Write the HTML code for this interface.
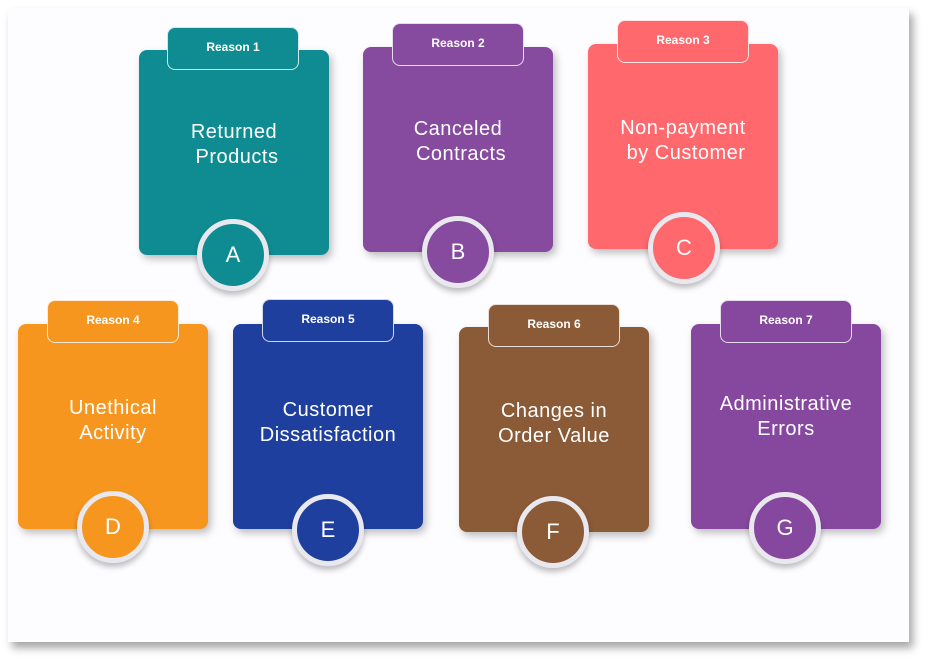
<!DOCTYPE html>
<html><head><meta charset="utf-8"><style>
html,body{margin:0;padding:0;width:937px;height:667px;background:#fff;overflow:hidden;font-family:"Liberation Sans",sans-serif;}
.sheet{position:absolute;left:8px;top:8px;width:901px;height:634px;background:#fdfcfe;box-shadow:4px 6px 8px rgba(0,0,0,0.35);}
.card{position:absolute;width:190px;height:205px;border-radius:8px;box-shadow:3px 4px 8px rgba(0,0,0,0.25);}
.tab{position:absolute;width:132px;height:43px;border-radius:8px;border:1.5px solid rgba(255,255,255,0.8);box-sizing:border-box;color:#fff;font-size:12px;font-weight:bold;text-align:center;line-height:38px;}
.title{position:absolute;left:0;width:190px;text-align:center;color:#fff;font-size:20px;line-height:25px;letter-spacing:0.5px;}
.circ{position:absolute;width:62px;height:62px;border-radius:50%;border:5px solid #e9e8ee;color:#fff;font-size:22px;text-align:center;line-height:62px;box-shadow:0 4px 6px rgba(0,0,0,0.25);}
</style></head><body>
<div class="sheet"></div>

<div class="card" style="left:139px;top:50px;background:#0f8c92"><div class="title" style="top:70px">Returned<br>&nbsp;Products</div></div>
<div class="tab" style="left:167px;top:27px;background:#0f8c92">Reason 1</div>
<div class="circ" style="left:197px;top:219px;background:#0f8c92">A</div>

<div class="card" style="left:363px;top:47px;background:#864a9e"><div class="title" style="top:70px">Canceled<br>&nbsp;Contracts</div></div>
<div class="tab" style="left:392px;top:23px;background:#864a9e">Reason 2</div>
<div class="circ" style="left:422px;top:216px;background:#864a9e">B</div>

<div class="card" style="left:588px;top:44px;background:#ff686c"><div class="title" style="top:72px">Non-payment<br>&nbsp;by Customer</div></div>
<div class="tab" style="left:617px;top:20px;background:#ff686c">Reason 3</div>
<div class="circ" style="left:648px;top:212px;background:#ff686c">C</div>

<div class="card" style="left:18px;top:324px;background:#f7961e"><div class="title" style="top:72px">Unethical<br>Activity</div></div>
<div class="tab" style="left:47px;top:300px;background:#f7961e">Reason 4</div>
<div class="circ" style="left:77px;top:491px;background:#f7961e">D</div>

<div class="card" style="left:233px;top:324px;background:#1f3f9e"><div class="title" style="top:74px">Customer<br>Dissatisfaction</div></div>
<div class="tab" style="left:262px;top:299px;background:#1f3f9e">Reason 5</div>
<div class="circ" style="left:292px;top:494px;background:#1f3f9e">E</div>

<div class="card" style="left:459px;top:327px;background:#8b5a36"><div class="title" style="top:72px">Changes in<br>Order Value</div></div>
<div class="tab" style="left:488px;top:304px;background:#8b5a36">Reason 6</div>
<div class="circ" style="left:517px;top:496px;background:#8b5a36">F</div>

<div class="card" style="left:691px;top:324px;background:#86489e"><div class="title" style="top:68px">Administrative<br>Errors</div></div>
<div class="tab" style="left:720px;top:300px;background:#86489e">Reason 7</div>
<div class="circ" style="left:749px;top:492px;background:#86489e">G</div>
</body></html>
